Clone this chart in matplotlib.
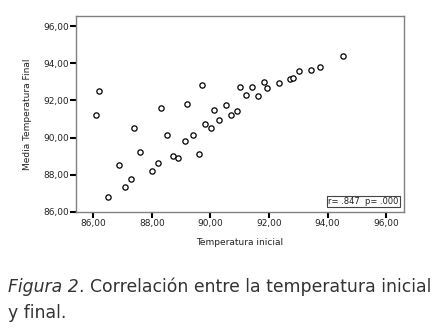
import matplotlib
matplotlib.use('Agg')
import matplotlib.pyplot as plt

# datos
temp_inicial = [86.09, 86.18, 86.49, 86.89, 87.09, 87.30, 87.40, 87.59, 88.00, 88.20,
                88.30, 88.51, 88.71, 88.91, 89.12, 89.20, 89.41, 89.61, 89.71, 89.81,
                90.01, 90.11, 90.31, 90.52, 90.71, 90.91, 91.01, 91.22, 91.42, 91.62,
                91.82, 91.92, 92.33, 92.71, 92.83, 93.03, 93.43, 93.75, 94.53]
temp_final = [91.20, 92.48, 86.82, 88.52, 87.32, 87.75, 90.50, 89.24, 88.18, 88.61,
              91.61, 90.15, 89.00, 88.91, 89.79, 91.80, 90.15, 89.11, 92.80, 90.73,
              90.50, 91.46, 90.95, 91.75, 91.23, 91.41, 92.72, 92.29, 92.72, 92.23,
              93.00, 92.66, 92.96, 93.15, 93.20, 93.59, 93.61, 93.82, 94.39]
ticks = [86, 88, 90, 92, 94, 96]
tick_labels = ["86,00", "88,00", "90,00", "92,00", "94,00", "96,00"]

fig = plt.figure(figsize=(4.35, 3.29), dpi=100)
ax = fig.add_axes([0.174, 0.356, 0.754, 0.596])

ax.plot(temp_inicial, temp_final, 'o', markersize=3.8, markerfacecolor='white',
        markeredgecolor='black', markeredgewidth=0.9)

ax.set_xlim(85.4, 96.6)
ax.set_ylim(86, 96.55)
ax.set_xticks(ticks)
ax.set_xticklabels(tick_labels)
ax.set_yticks(ticks)
ax.set_yticklabels(tick_labels)
ax.tick_params(direction='out', length=4, width=1.5, color='black',
               labelsize=6.5, labelcolor='#222222', pad=1)
for s in ax.spines.values():
    s.set_color('#808080')
    s.set_linewidth(1.0)

ax.set_xlabel('Temperatura inicial', fontsize=6.5, color='#222222', labelpad=7)
ax.set_ylabel('Media Temperatura Final', fontsize=6.5, color='#222222', labelpad=8)

ax.text(0.985, 0.03, 'r= .847  p= .000', transform=ax.transAxes, fontsize=6,
        ha='right', va='bottom', color='#222222',
        bbox=dict(boxstyle='square,pad=0.15', facecolor='white',
                  edgecolor='#444444', linewidth=0.8))

# pie de figura
fs = 12.4
t1 = fig.text(0.018, 0.128, 'Figura 2', fontsize=fs, style='italic',
              color='#333333', ha='left', va='center')
fig.canvas.draw()
bb = t1.get_window_extent(renderer=fig.canvas.get_renderer())
x2 = bb.x1 / fig.bbox.width
fig.text(x2, 0.128, '. Correlación entre la temperatura inicial',
         fontsize=fs, color='#333333', ha='left', va='center')
fig.text(0.018, 0.05, 'y final.', fontsize=fs, color='#333333',
         ha='left', va='center')

plt.savefig('out.png', dpi=100)
